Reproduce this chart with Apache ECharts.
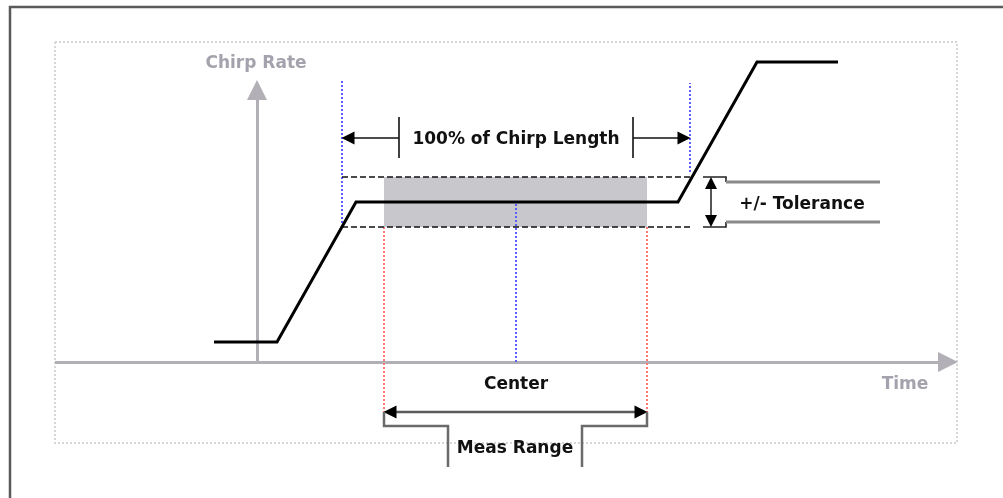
<!DOCTYPE html>
<html><head><meta charset="utf-8">
<script src="https://cdn.jsdelivr.net/npm/echarts@6/dist/echarts.min.js"></script>
<style>html,body{margin:0;padding:0;background:#fff}#c{width:1003px;height:498px}</style>
</head><body><div id="c"></div>
<script>
// Diagram coordinates: t = time (0 at the rate axis), r = chirp rate (0 at the time axis)
const chirpProfile = [[-43,20],[20,20],[99,160],[421,160],[500,300],[581,300]];
const nominalRate = 160;
const toleranceRate = [135, 185];
const toleranceSpanT = [85, 435];
const chirpLengthT = [85, 433];
const chirpLengthTicksT = [142, 376];
const chirpLengthArrowR = 224;
const measRangeT = [127, 390];
const measArrowR = -50;
const measBracketT = [191, 325];
const measBracketR = [-64, -105];
const centerT = 259;
const tolArrowT = 454;
const tolBracketT = [446, 469, 623];
const tolInnerR = [140, 180];
const blueTopR = [282, 279];
const blueRightLowR = 190;
const axisEndT = [-202, 691];
const axisEndR = 272;
const frameBox = [[-202,320],[700,320],[700,-81],[-202,-81],[-202,320]];
const outerBorder = [[-247,-140],[-247,355],[750,355]];
const labelTexts = ['Chirp Rate','Time','100% of Chirp Length','+/- Tolerance','Center','Meas Range'];
const labelAnchors = [[-1,298],[648,-23],[259,222],[545,157],[259,-23],[258,-87]];

const FONT = 'bold 17px "DejaVu Sans"';

const chart = echarts.init(document.getElementById('c'), null, {renderer:'canvas'});
const lineSeries = (data, color, width, type, extra) => Object.assign({
  type:'lines', coordinateSystem:'cartesian2d', polyline:true, silent:true,
  symbol:'none', data: data.map(d => ({coords:d})),
  lineStyle:{color, width, type, opacity:1, curveness:0}
}, extra||{});
// arrowhead helper: short segment ending at (tip - offset along direction) with triangle symbol
const heads = (list, size) => lineSeries(list.map(([tip, dx, dy]) => {
  const c = [tip[0] - dx*6, tip[1] - dy*6];
  return [[c[0] - dx*2, c[1] - dy*2], c];
}), '#000', 1, 'solid', {polyline:false, symbol:['none','triangle'], symbolSize:size});

const option = {
  animation:false,
  grid:{left:0,right:0,top:0,bottom:0},
  xAxis:{type:'value',min:-257,max:746,show:false},
  yAxis:{type:'value',min:-136,max:362,show:false},
  series:[
    lineSeries([outerBorder], '#5a5a5a', 2.5, 'solid'),
    lineSeries([frameBox], '#d8d4d8', 2, [2,2]),
    {
      type:'custom', silent:true, data:[[measRangeT[0], toleranceRate[0], measRangeT[1], toleranceRate[1]]],
      renderItem:(params, api) => {
        const p0 = api.coord([api.value(0), api.value(3)]);
        const p1 = api.coord([api.value(2), api.value(1)]);
        return {type:'rect', shape:{x:p0[0], y:p0[1], width:p1[0]-p0[0], height:p1[1]-p0[1]}, style:{fill:'#c8c7cc'}};
      }
    },
    // axes
    lineSeries([[[axisEndT[0],0],[axisEndT[1],0]], [[0,0],[0,axisEndR]]], '#b2b0b6', 3, 'solid',
      {polyline:false, symbol:['none','triangle'], symbolSize:[22,20]}),
    // blue dotted chirp-length bounds and center
    lineSeries([[[chirpLengthT[0],toleranceRate[0]],[chirpLengthT[0],blueTopR[0]]],
                [[chirpLengthT[1],blueRightLowR],[chirpLengthT[1],blueTopR[1]]],
                [[centerT,0],[centerT,nominalRate]]], '#5c5cff', 2, [2,2]),
    // red dotted meas range bounds
    lineSeries([[[measRangeT[0],toleranceRate[0]],[measRangeT[0],measArrowR]],
                [[measRangeT[1],toleranceRate[0]],[measRangeT[1],measArrowR]]], '#ff7878', 2, [2,2]),
    // tolerance dashed lines
    lineSeries([[[toleranceSpanT[0],toleranceRate[1]],[toleranceSpanT[1],toleranceRate[1]]],
                [[toleranceSpanT[0],toleranceRate[0]],[toleranceSpanT[1],toleranceRate[0]]]], '#111', 1.6, [6,3]),
    // chirp length arrows
    lineSeries([[[chirpLengthTicksT[0],chirpLengthArrowR],[chirpLengthT[0]+4,chirpLengthArrowR]],
                [[chirpLengthTicksT[1],chirpLengthArrowR],[chirpLengthT[1]-4,chirpLengthArrowR]]], '#111', 1.6, 'solid'),
    heads([[[chirpLengthT[0],chirpLengthArrowR],-1,0],[[chirpLengthT[1],chirpLengthArrowR],1,0]], [14,13]),
    lineSeries([[[chirpLengthTicksT[0],chirpLengthArrowR+21],[chirpLengthTicksT[0],chirpLengthArrowR-20]],
                [[chirpLengthTicksT[1],chirpLengthArrowR+21],[chirpLengthTicksT[1],chirpLengthArrowR-20]]], '#111', 1.6, 'solid'),
    // tolerance bracket
    lineSeries([[[tolBracketT[0],toleranceRate[1]],[tolBracketT[1],toleranceRate[1]],[tolBracketT[1],tolInnerR[1]]],
                [[tolBracketT[0],toleranceRate[0]],[tolBracketT[1],toleranceRate[0]],[tolBracketT[1],tolInnerR[0]]]], '#222', 1.6, 'solid'),
    lineSeries([[[tolBracketT[1],tolInnerR[1]],[tolBracketT[2],tolInnerR[1]]],
                [[tolBracketT[1],tolInnerR[0]],[tolBracketT[2],tolInnerR[0]]]], '#8a8a8a', 3, 'solid'),
    lineSeries([[[tolArrowT,toleranceRate[0]+6],[tolArrowT,toleranceRate[1]-6]]], '#555', 2, 'solid'),
    heads([[[tolArrowT,toleranceRate[1]],0,1],[[tolArrowT,toleranceRate[0]],0,-1]], [15,12]),
    // meas range arrow and bracket
    lineSeries([[[measRangeT[0]+6,measArrowR],[measRangeT[1]-6,measArrowR]]], '#5a5a5a', 2.5, 'solid'),
    heads([[[measRangeT[0],measArrowR],-1,0],[[measRangeT[1],measArrowR],1,0]], [15,13]),
    lineSeries([[[measRangeT[0],measArrowR],[measRangeT[0],measBracketR[0]],[measBracketT[0],measBracketR[0]],[measBracketT[0],measBracketR[1]]],
                [[measRangeT[1],measArrowR],[measRangeT[1],measBracketR[0]],[measBracketT[1],measBracketR[0]],[measBracketT[1],measBracketR[1]]]], '#6a6a6a', 2.5, 'solid'),
    // chirp profile
    {type:'line', silent:true, data:chirpProfile, symbol:'none', lineStyle:{color:'#000', width:3, join:'miter'}},
    // labels
    {
      type:'custom', silent:true, data: labelAnchors.map((a,i) => [a[0], a[1], i]),
      renderItem:(params, api) => {
        const p = api.coord([api.value(0), api.value(1)]);
        const i = api.value(2);
        const gray = i < 2;
        return {type:'text', x:p[0], y:p[1], style:{text:labelTexts[i], font:FONT, fill: gray ? '#a4a2ac' : '#111', align:'center', verticalAlign:'middle'}};
      }
    }
  ]
};
chart.setOption(option);
</script></body></html>
